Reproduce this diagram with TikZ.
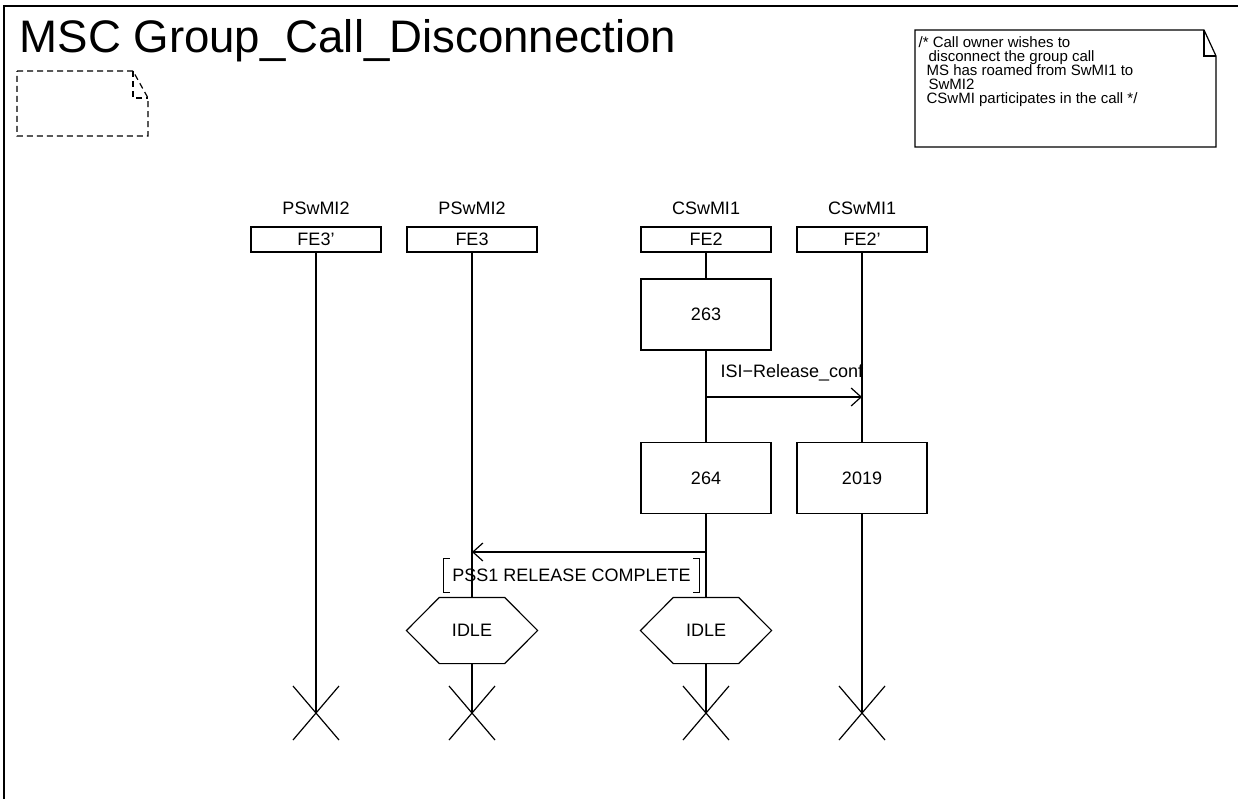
\documentclass[tikz,border=0pt]{standalone}
\usepackage{fontspec}
\setmainfont{Liberation Sans}
\usetikzlibrary{arrows.meta}
\begin{document}
\begin{tikzpicture}[x=1pt,y=-1pt,line width=1.2pt,
  lbl/.style={font=\fontsize{18}{20}\selectfont, inner sep=0pt},
  instbox/.style={draw, minimum width=130pt, minimum height=25pt, inner sep=0pt, font=\fontsize{18}{20}\selectfont},
  actbox/.style={draw, minimum width=130pt, minimum height=71pt, inner sep=0pt, font=\fontsize{18}{20}\selectfont},
  statebox/.style={minimum width=130pt, minimum height=65pt, inner sep=0pt, font=\fontsize{18}{20}\selectfont},
  msg/.style={-{Straight Barb[length=10pt,width=18pt,line width=1.2pt]}},
  docline/.style={dash pattern=on 6pt off 4pt, line width=1.2pt}]
\useasboundingbox (0,0) rectangle (1238,798);
\fill[white] (0,0) rectangle (1238,798);
% frame
\coordinate (fbl) at (4,800);
\coordinate (ftl) at (4,6);
\coordinate (ftr) at (1240,6);
\draw[line width=1.4pt] (fbl) -- (ftl) -- (ftr);
% title
\node[anchor=base west, inner sep=0pt, font=\fontsize{45.6}{50}\selectfont] (title) at (19,52) {MSC Group\_Call\_Disconnection};
% dashed document symbol
\draw[docline] (17,71) -- (133,71) -- (148,98) -- (148,136) -- (17,136) -- cycle;
\draw[docline] (133,71) -- (133,98) -- (148,98);
% comment
\draw (915,30) -- (1204,30) -- (1216,56) -- (1216,147) -- (915,147) -- cycle;
\draw (1204,30) -- (1204,56) -- (1216,56);
\node[anchor=north west, align=left, inner sep=0pt, font=\fontsize{15}{14}\selectfont] (note) at (918,36)
 {/* Call owner wishes to\\
  \hspace*{10pt}disconnect the group call\\
  \hspace*{8pt}MS has roamed from SwMI1 to\\
  \hspace*{10pt}SwMI2\\
  \hspace*{8pt}CSwMI participates in the call */};
% instance heads
\node[lbl] (n1) at (316,208) {PSwMI2};
\node[lbl] (n2) at (472,208) {PSwMI2};
\node[lbl] (n3) at (706,208) {CSwMI1};
\node[lbl] (n4) at (862,208) {CSwMI1};
\node[instbox] (h1) at (316,239.5) {FE3'};
\node[instbox] (h2) at (472,239.5) {FE3};
\node[instbox] (h3) at (706,239.5) {FE2};
\node[instbox] (h4) at (862,239.5) {FE2'};
% actions
\node[actbox] (a263) at (706,314.5) {263};
\node[actbox] (a264) at (706,478) {264};
\node[actbox] (a2019) at (862,478) {2019};
% states
\node[statebox] (s1) at (472,630.5) {IDLE};
\node[statebox] (s2) at (706,630.5) {IDLE};
\foreach \s in {s1,s2}{
  \draw (\s.west) -- ([xshift=33pt]\s.north west) -- ([xshift=-33pt]\s.north east) -- (\s.east)
        -- ([xshift=-33pt]\s.south east) -- ([xshift=33pt]\s.south west) -- cycle;
}
% ends
\coordinate (x1) at (316,713);
\coordinate (x2) at (472,713);
\coordinate (x3) at (706,713);
\coordinate (x4) at (862,713);
\foreach \x in {x1,x2,x3,x4}{
  \draw ([shift={(-23,-27)}]\x) -- ([shift={(23,27)}]\x);
  \draw ([shift={(-23,27)}]\x) -- ([shift={(23,-27)}]\x);
}
% lifelines
\draw (h1.south) -- (x1);
\draw (h2.south) -- (s1.north);
\draw (s1.south) -- (x2);
\draw (h3.south) -- (a263.north);
\draw (a263.south) -- (a264.north);
\draw (a264.south) -- (s2.north);
\draw (s2.south) -- (x3);
\draw (h4.south) -- (a2019.north);
\draw (a2019.south) -- (x4);
% messages
\coordinate (m1a) at (706,397);
\coordinate (m1b) at (862,397);
\draw[msg] (m1a) -- (m1b);
\node[lbl, anchor=base west] (l1) at (720,377) {ISI−Release\_conf};
\coordinate (m2a) at (706,552);
\coordinate (m2b) at (472,552);
\draw[msg] (m2a) -- (m2b);
\node[lbl, minimum height=33pt, inner xsep=8pt] (l2) at (571.5,575.5) {PSS1 RELEASE COMPLETE};
\draw ([xshift=6pt]l2.north west) -- (l2.north west) -- (l2.south west) -- ([xshift=6pt]l2.south west);
\draw ([xshift=-6pt]l2.north east) -- (l2.north east) -- (l2.south east) -- ([xshift=-6pt]l2.south east);
\end{tikzpicture}
\end{document}
